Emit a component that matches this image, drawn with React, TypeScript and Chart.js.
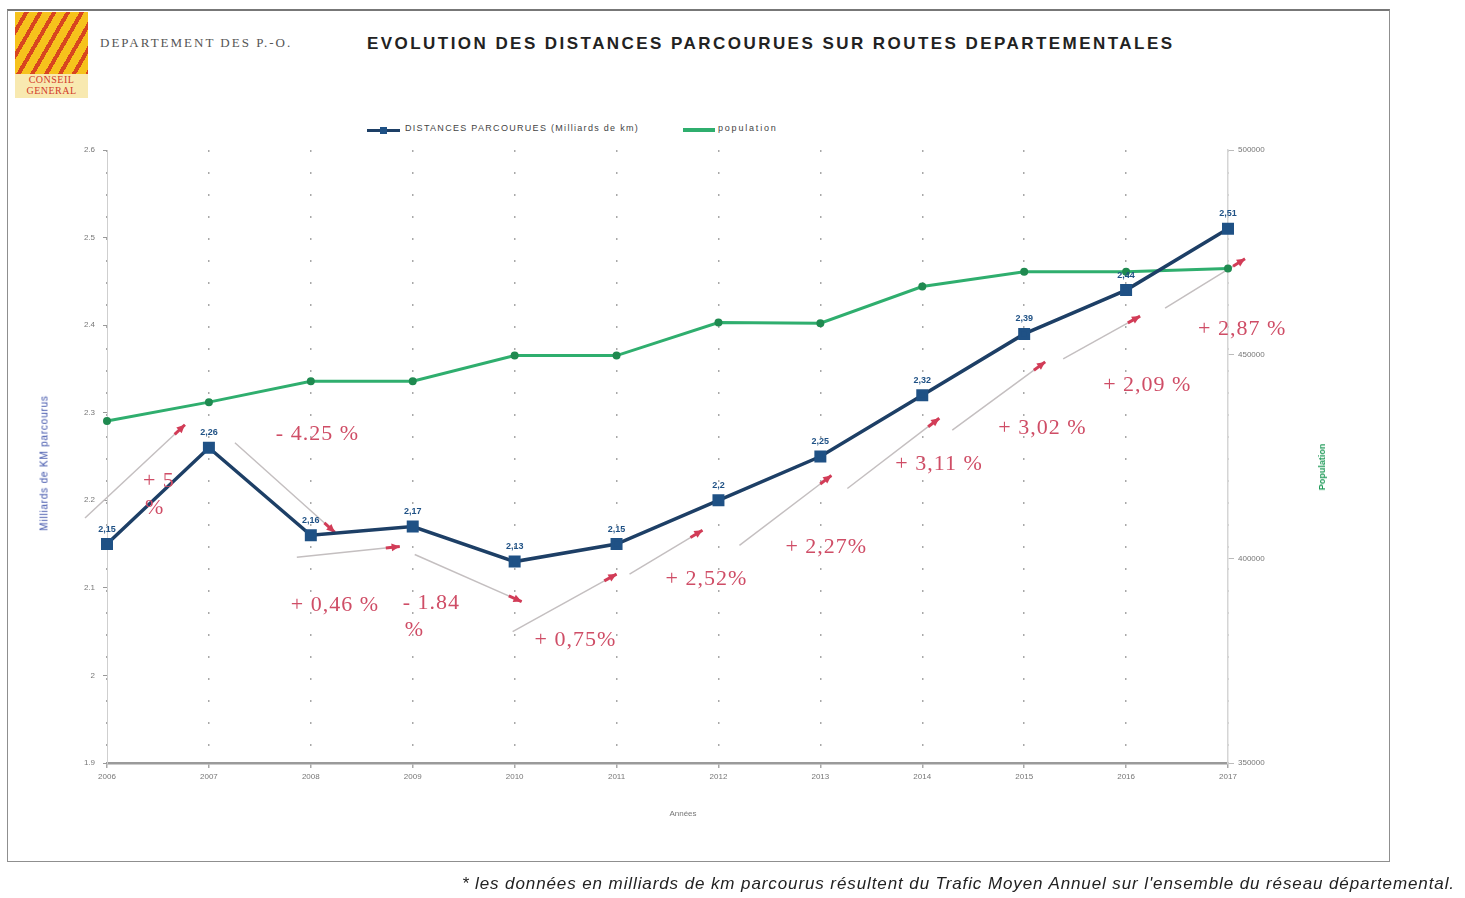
import React, { useEffect, useRef } from 'react';
import { Chart, registerables } from 'chart.js';

Chart.register(...registerables);

// ---------- DATA ----------
const years = ['2006', '2007', '2008', '2009', '2010', '2011', '2012', '2013', '2014', '2015', '2016', '2017'];
const distances = [2.15, 2.26, 2.16, 2.17, 2.13, 2.15, 2.2, 2.25, 2.32, 2.39, 2.44, 2.51];
const population = [433700, 438300, 443400, 443400, 449700, 449700, 457800, 457600, 466600, 470200, 470200, 471000];
const leftTicks = [1.9, 2, 2.1, 2.2, 2.3, 2.4, 2.5, 2.6];
const rightTicks = [350000, 400000, 450000, 500000];
const changeLabels = ['+ 5\n%', '- 4.25 %', '+ 0,46 %', '- 1.84\n%', '+ 0,75%', '+ 2,52%', '+ 2,27%', '+ 3,11 %', '+ 3,02 %', '+ 2,09 %', '+ 2,87 %'];

// ---------- STYLE (pixel offsets of the hand-drawn annotations, relative to segment ends / midpoints) ----------
const arrowOffsets = [
  [-22, -26, -24, -23],
  [26, -5, 24, -3],
  [-14, 22, -13, 20],
  [2, 28, 7, 40],
  [-2, 70, 0, 30],
  [13, 30, -16, 30],
  [21, 45, 11, 19],
  [27, 32, 17, 23],
  [30, 35, 21, 28],
  [39, 25, 14, 26],
  [39, 18, 17, 30],
];
const labelOffsets = [
  [-15, -15],
  [16, -57],
  [-71, 74],
  [-61, 59],
  [-31, 87],
  [-2, 57],
  [16, 69],
  [24, 38],
  [25, 64],
  [28, 73],
  [21, 70],
];

const BLUE = '#1d3f66';
const BLUE_PT = '#1f5185';
const GREEN = '#2fae6e';
const RED = '#d23c57';
const RED_TXT = '#cf4d66';

const annotationPlugin = {
  id: 'annot',
  beforeDatasetsDraw(chart: any) {
    const { ctx, scales } = chart;
    const xs = scales.x;
    const ys = scales.y;
    ctx.save();
    for (let i = 0; i < distances.length - 1; i++) {
      const x0 = xs.getPixelForValue(i);
      const y0 = ys.getPixelForValue(distances[i]);
      const x1 = xs.getPixelForValue(i + 1);
      const y1 = ys.getPixelForValue(distances[i + 1]);
      const o = arrowOffsets[i];
      const sx = x0 + o[0], sy = y0 + o[1], ex = x1 + o[2], ey = y1 + o[3];
      ctx.strokeStyle = '#c4bfc0';
      ctx.lineWidth = 1.5;
      ctx.beginPath();
      ctx.moveTo(sx, sy);
      ctx.lineTo(ex, ey);
      ctx.stroke();
      const ang = Math.atan2(ey - sy, ex - sx);
      const hx = ex - Math.cos(ang) * 14, hy = ey - Math.sin(ang) * 14;
      ctx.strokeStyle = RED;
      ctx.lineWidth = 3;
      ctx.beginPath();
      ctx.moveTo(hx, hy);
      ctx.lineTo(ex, ey);
      ctx.stroke();
      ctx.fillStyle = RED;
      ctx.beginPath();
      ctx.moveTo(ex, ey);
      ctx.lineTo(ex - Math.cos(ang - 0.45) * 9, ey - Math.sin(ang - 0.45) * 9);
      ctx.lineTo(ex - Math.cos(ang + 0.45) * 9, ey - Math.sin(ang + 0.45) * 9);
      ctx.closePath();
      ctx.fill();
    }
    ctx.restore();
  },
  afterDatasetsDraw(chart: any) {
    const { ctx, scales } = chart;
    const xs = scales.x;
    const ys = scales.y;
    ctx.save();
    // value labels on the blue series
    ctx.font = 'bold 9px "Liberation Sans", Arial, sans-serif';
    ctx.fillStyle = BLUE_PT;
    ctx.textAlign = 'center';
    ctx.textBaseline = 'middle';
    distances.forEach((v, i) => {
      const x = xs.getPixelForValue(i);
      const y = ys.getPixelForValue(v);
      ctx.fillText(String(v).replace('.', ','), x, y - 15);
    });
    // percentage change labels
    ctx.font = '22px "Liberation Serif", "DejaVu Serif", serif';
    try { (ctx as any).letterSpacing = '1px'; } catch (e) { /* ignore */ }
    ctx.fillStyle = RED_TXT;
    ctx.textAlign = 'left';
    for (let i = 0; i < changeLabels.length; i++) {
      const mx = (xs.getPixelForValue(i) + xs.getPixelForValue(i + 1)) / 2;
      const my = (ys.getPixelForValue(distances[i]) + ys.getPixelForValue(distances[i + 1])) / 2;
      const lines = changeLabels[i].split('\n');
      lines.forEach((ln, k) => {
        ctx.fillText(ln, mx + labelOffsets[i][0] + k * 2, my + labelOffsets[i][1] + k * 27);
      });
    }
    try { (ctx as any).letterSpacing = '0px'; } catch (e) { /* ignore */ }
    ctx.restore();
  },
};

function ChartCanvas() {
  const ref = useRef<HTMLCanvasElement>(null);
  useEffect(() => {
    if (!ref.current) return;
    const tickFont = { family: '"Liberation Sans", Arial, sans-serif', size: 8 };
    const chart = new Chart(ref.current, {
      type: 'line',
      data: {
        labels: years,
        datasets: [
          {
            label: 'DISTANCES PARCOURUES (Milliards de km)',
            data: distances,
            yAxisID: 'y',
            borderColor: BLUE,
            borderWidth: 3.5,
            pointStyle: 'rect',
            pointRadius: 6,
            pointBackgroundColor: BLUE_PT,
            pointBorderColor: BLUE_PT,
            tension: 0,
            order: 1,
          },
          {
            label: 'population',
            data: population,
            yAxisID: 'y1',
            borderColor: GREEN,
            borderWidth: 3,
            pointRadius: 2.5,
            pointBackgroundColor: '#1f8a50',
            pointBorderColor: '#1f8a50',
            tension: 0,
            order: 2,
          },
        ],
      },
      options: {
        responsive: false,
        animation: false,
        devicePixelRatio: 1,
        layout: { padding: { top: 150, left: 0, right: 0, bottom: 0 } },
        plugins: {
          legend: { display: false },
          title: { display: false },
          tooltip: { enabled: false },
        },
        scales: {
          x: {
            offset: false,
            grid: { color: '#a9a9a9', lineWidth: 1.5, drawTicks: true, tickLength: 5 },
            border: { display: true, color: '#9a9a9a', width: 2.5, dash: [2, 20] },
            ticks: { font: tickFont, color: '#777', padding: 4, maxRotation: 0 },
            afterFit: (s: any) => { s.height = 135; },
          },
          y: {
            position: 'left',
            min: 1.9,
            max: 2.6,
            afterBuildTicks: (s: any) => { s.ticks = leftTicks.map((v) => ({ value: v })); },
            grid: { drawOnChartArea: false, drawTicks: true, tickLength: 4, color: '#999' },
            border: { display: true, color: '#cfcfcf', width: 1 },
            ticks: { font: tickFont, color: '#777', padding: 8, callback: (v: any) => String(v) },
            afterFit: (s: any) => { s.width = 107; },
          },
          y1: {
            position: 'right',
            min: 350000,
            max: 500000,
            afterBuildTicks: (s: any) => { s.ticks = rightTicks.map((v) => ({ value: v })); },
            grid: { drawOnChartArea: false, drawTicks: true, tickLength: 6, color: '#bbb' },
            border: { display: true, color: '#d5d5d5', width: 1.5 },
            ticks: { font: tickFont, color: '#777', padding: 4, callback: (v: any) => String(v) },
            afterFit: (s: any) => { s.width = 237; },
          },
        },
      },
      plugins: [annotationPlugin],
    } as any);
    return () => chart.destroy();
  }, []);
  return (
    <canvas
      ref={ref}
      width={1465}
      height={898}
      style={{ position: 'absolute', left: 0, top: 0, width: 1465, height: 898 }}
    />
  );
}

export default function App() {
  const abs: React.CSSProperties = { position: 'absolute', whiteSpace: 'nowrap' };
  const sans = '"Liberation Sans", Arial, sans-serif';
  return (
    <div style={{ position: 'absolute', left: 0, top: 0, width: 1465, height: 898, background: '#fff', overflow: 'hidden' }}>
      {/* frame */}
      <div style={{ ...abs, left: 7, top: 9, width: 1383, height: 853, border: '1.5px solid #8f8f8f', borderTop: '2px solid #777', boxSizing: 'border-box' }} />
      {/* logo */}
      <div style={{ ...abs, left: 15, top: 12, width: 73, height: 86, background: '#f6c21c', overflow: 'hidden' }}>
        <div style={{ position: 'absolute', left: 0, top: 0, width: 73, height: 62, background: 'repeating-linear-gradient(120deg, #f6c21c 0px, #f6c21c 8px, #d8451f 8px, #d8451f 12px)' }} />
        <div style={{ position: 'absolute', left: 0, top: 62, width: 73, height: 24, background: '#f8e9b0', color: '#d23a2a', fontFamily: '"Liberation Serif", serif', fontSize: 10, lineHeight: '11px', textAlign: 'center', letterSpacing: 0.5 }}>
          CONSEIL<br />GENERAL
        </div>
      </div>
      <div style={{ ...abs, left: 100, top: 35, fontFamily: '"Liberation Serif", "DejaVu Serif", serif', fontSize: 13, letterSpacing: 2, color: '#555' }}>
        DEPARTEMENT DES P.-O.
      </div>
      <div style={{ ...abs, left: 367, top: 34, fontFamily: sans, fontWeight: 'bold', fontSize: 17, letterSpacing: 2.45, color: '#222' }}>
        EVOLUTION DES DISTANCES PARCOURUES SUR ROUTES DEPARTEMENTALES
      </div>
      {/* legend */}
      <div style={{ ...abs, left: 367, top: 129, width: 33, height: 3, background: BLUE }} />
      <div style={{ ...abs, left: 380, top: 127, width: 7, height: 7, background: BLUE_PT }} />
      <div style={{ ...abs, left: 405, top: 123, fontFamily: sans, fontSize: 9, letterSpacing: 1.3, color: '#444' }}>
        DISTANCES PARCOURUES (Milliards de km)
      </div>
      <div style={{ ...abs, left: 683, top: 128, width: 32, height: 4, background: GREEN }} />
      <div style={{ ...abs, left: 718, top: 123, fontFamily: sans, fontSize: 9, letterSpacing: 1.8, color: '#444' }}>
        population
      </div>
      <ChartCanvas />
      {/* axis titles */}
      <div style={{ ...abs, left: 44, top: 463, transform: 'translate(-50%, -50%) rotate(-90deg)', fontFamily: sans, fontSize: 10, letterSpacing: 0.8, color: '#3b4fa8' }}>
        Milliards de KM parcourus
      </div>
      <div style={{ ...abs, left: 1322, top: 467, transform: 'translate(-50%, -50%) rotate(-90deg)', fontFamily: sans, fontSize: 9, fontWeight: 'bold', color: '#1f9a58' }}>
        Population
      </div>
      <div style={{ ...abs, left: 683, top: 813, transform: 'translate(-50%, -50%)', fontFamily: sans, fontSize: 8, color: '#777' }}>
        Années
      </div>
      {/* footnote */}
      <div style={{ ...abs, right: 10, top: 874, fontFamily: sans, fontStyle: 'italic', fontSize: 17, letterSpacing: 0.9, color: '#222' }}>
        * les données en milliards de km parcourus résultent du Trafic Moyen Annuel sur l'ensemble du réseau départemental.
      </div>
    </div>
  );
}
